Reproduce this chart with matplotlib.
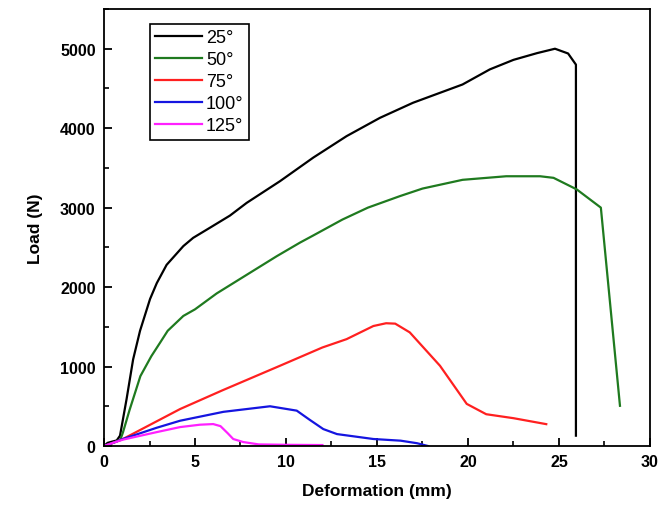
import matplotlib.pyplot as plt
from matplotlib.ticker import MultipleLocator

plt.rcParams['font.family'] = ['Liberation Sans', 'DejaVu Sans']

# load-deformation curves
x25 = [0, 0.2, 0.7, 0.88, 1.24, 1.6, 1.98, 2.53, 2.9, 3.44, 4.36, 4.9, 5.82, 6.92, 7.84,
       9.67, 11.5, 13.33, 15.16, 16.98, 19.7, 21.2, 22.5, 23.8, 24.78, 25.5, 25.93, 25.93]
y25 = [0, 40, 70, 130, 590, 1090, 1450, 1850, 2050, 2280, 2516, 2620, 2747, 2900, 3060,
       3333, 3630, 3900, 4130, 4320, 4550, 4740, 4860, 4945, 5000, 4940, 4800, 130]

x50 = [0, 0.5, 0.9, 1.04, 1.4, 2.0, 2.6, 3.08, 3.5, 4.36, 5.0, 6.19, 8.02, 9.5, 10.77,
       11.5, 13.1, 14.5, 16.26, 17.5, 19.7, 22.1, 23.96, 24.7, 25.97, 27.3, 28.35]
y50 = [0, 40, 80, 170, 450, 880, 1130, 1300, 1450, 1637, 1720, 1920, 2180, 2390, 2560,
       2650, 2850, 3000, 3145, 3240, 3350, 3395, 3395, 3375, 3230, 3000, 506]

x75 = [0, 0.5, 1.04, 4.18, 6.5, 9.67, 12.0, 13.33, 14.8, 15.5, 16.0, 16.8, 18.46, 19.93,
       21.0, 22.5, 24.3]
y75 = [0, 40, 88, 465, 700, 1010, 1240, 1345, 1510, 1545, 1540, 1430, 1010, 530,
       400, 350, 275]

x100 = [0, 0.5, 1.04, 2.9, 4.18, 6.56, 9.12, 10.59, 11.3, 12.05, 12.8, 14.8, 16.3, 17.2, 17.8]
y100 = [0, 40, 88, 230, 318, 430, 500, 445, 330, 213, 150, 88, 67, 35, 0]

x125 = [0, 0.5, 1.04, 2.9, 4.18, 5.27, 6.0, 6.4, 6.8, 7.1, 7.65, 8.5, 10, 12]
y125 = [0, 40, 80, 175, 238, 268, 276, 250, 160, 88, 50, 20, 15, 12]

series = [(x25, y25, '25°', 'black'),
          (x50, y50, '50°', '#1f7a1f'),
          (x75, y75, '75°', '#ff2020'),
          (x100, y100, '100°', '#1515e0'),
          (x125, y125, '125°', '#ff20ff')]

fig = plt.figure(figsize=(6.7, 5.1), dpi=100)
ax = fig.add_axes([104 / 670, 63 / 510, 546 / 670, 437 / 510])

for xs, ys, lab, col in series:
    ax.plot(xs, ys, color=col, lw=1.6, label=lab)

ax.set_xlim(0, 30)
ax.set_ylim(0, 5500)
ax.xaxis.set_major_locator(MultipleLocator(5))
ax.xaxis.set_minor_locator(MultipleLocator(2.5))
ax.yaxis.set_major_locator(MultipleLocator(1000))
ax.yaxis.set_minor_locator(MultipleLocator(500))
ax.tick_params(which='both', direction='in', top=False, right=False)
ax.tick_params(which='major', length=6, width=1.3, labelsize=11.5, pad=6)
ax.tick_params(which='minor', length=3.5, width=1.2)
for lbl in ax.get_xticklabels() + ax.get_yticklabels():
    lbl.set_fontweight('bold')
for sp in ax.spines.values():
    sp.set_linewidth(1.3)

ax.set_xlabel('Deformation (mm)', fontsize=12.5, fontweight='bold', labelpad=10)
ax.set_ylabel('Load (N)', fontsize=12.5, fontweight='bold', labelpad=12)

leg = ax.legend(loc='upper left', bbox_to_anchor=(0.084, 0.966), borderaxespad=0,
                fontsize=13, handlelength=2.6, labelspacing=0.28, handletextpad=0.2,
                borderpad=0.3, fancybox=False, framealpha=1)
leg.get_frame().set_edgecolor('black')
leg.get_frame().set_linewidth(1.2)

fig.savefig('out.png', dpi=100)
